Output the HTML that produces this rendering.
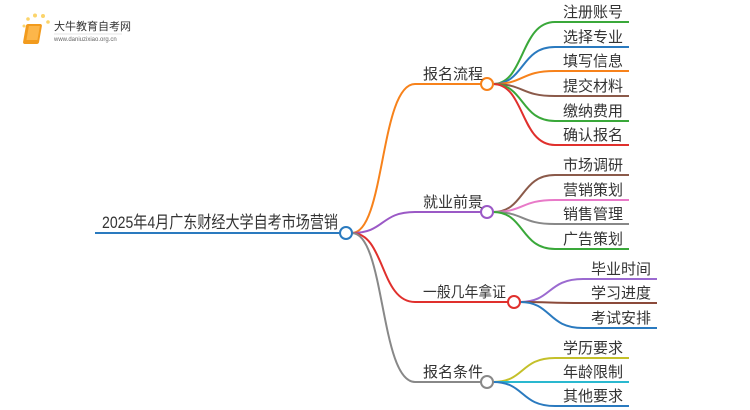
<!DOCTYPE html>
<html><head><meta charset="utf-8"><style>
body{margin:0;background:#fff;width:750px;height:410px;overflow:hidden;position:relative;font-family:"Liberation Sans","Noto Sans CJK SC",sans-serif}
svg{position:absolute;left:0;top:0}
text{font-family:"Liberation Sans","Noto Sans CJK SC",sans-serif;fill:#333}
</style></head><body>
<svg width="750" height="410" viewBox="0 0 750 410">
<g transform="translate(20,14)">
<circle cx="4" cy="12" r="1.5" fill="#fbd46b"/><circle cx="8" cy="5" r="1.8" fill="#fbd46b"/><circle cx="15" cy="1.5" r="2" fill="#fbd46b"/><circle cx="23" cy="2" r="2" fill="#fbd46b"/><circle cx="28" cy="8" r="1.8" fill="#fbd46b"/>
<rect x="8" y="10" width="16" height="20" rx="2" fill="#f29b1d" transform="skewX(-10)"/>
<rect x="11" y="12" width="11" height="14" fill="#fcb64a" transform="skewX(-10)"/>
</g>
<text x="54" y="30" font-size="11" style="fill:#333">大牛教育自考网</text>
<line x1="54" y1="34" x2="122" y2="34" stroke="#ccc" stroke-width="0.6"/>
<text x="54" y="41" font-size="6" style="fill:#666">www.daniuzixiao.org.cn</text>

<g fill="none" stroke-width="2">
<line x1="95" y1="233" x2="340" y2="233" stroke="#2a7abf"/>
<path d="M352 233 C385 233,380 84,415 84 L481 84" stroke="#f7821b"/>
<path d="M352 233 C385 233,380 212,415 212 L481 212" stroke="#9b59c6"/>
<path d="M352 233 C385 233,380 302,415 302 L508 302" stroke="#e0302d"/>
<path d="M352 233 C385 233,380 382,415 382 L481 382" stroke="#888"/>

<path d="M493 84 C525 84,520 22,555 22 L629 22" stroke="#3aa83a"/>
<path d="M493 84 C525 84,520 47,555 47 L629 47" stroke="#2a7abf"/>
<path d="M493 84 C525 84,520 71,555 71 L629 71" stroke="#f7821b"/>
<path d="M493 84 C525 84,520 96,555 96 L629 96" stroke="#8b5a4a"/>
<path d="M493 84 C525 84,520 121,555 121 L629 121" stroke="#3aa83a"/>
<path d="M493 84 C525 84,520 145,555 145 L629 145" stroke="#e0302d"/>

<path d="M493 212 C525 212,520 175,555 175 L629 175" stroke="#8b5a4a"/>
<path d="M493 212 C525 212,520 200,555 200 L629 200" stroke="#e87ac8"/>
<path d="M493 212 C525 212,520 224,555 224 L629 224" stroke="#888"/>
<path d="M493 212 C525 212,520 249,555 249 L629 249" stroke="#3aa83a"/>

<path d="M520 302 C552 302,547 279,583 279 L657 279" stroke="#9b6ad0"/>
<path d="M520 302 C552 302,547 303,583 303 L657 303" stroke="#8b4a3a"/>
<path d="M520 302 C552 302,547 328,583 328 L657 328" stroke="#2a7abf"/>

<path d="M493 382 C525 382,520 358,555 358 L629 358" stroke="#c4c02a"/>
<path d="M493 382 C525 382,520 382,555 382 L629 382" stroke="#2ab8cf"/>
<path d="M493 382 C525 382,520 406,555 406 L629 406" stroke="#2a7abf"/>
</g>
<g fill="#fff" stroke-width="2">
<circle cx="346" cy="233" r="6" stroke="#2a7abf"/>
<circle cx="487" cy="84" r="6" stroke="#f7821b"/>
<circle cx="487" cy="212" r="6" stroke="#9b59c6"/>
<circle cx="514" cy="302" r="6" stroke="#e0302d"/>
<circle cx="487" cy="382" r="6" stroke="#888"/>
</g>
<text x="102" y="228" font-size="17" textLength="236" lengthAdjust="spacingAndGlyphs">2025年4月广东财经大学自考市场营销</text>
<g font-size="15">
<text x="423" y="79">报名流程</text>
<text x="423" y="207">就业前景</text>
<text x="423" y="297" textLength="83" lengthAdjust="spacingAndGlyphs">一般几年拿证</text>
<text x="423" y="377">报名条件</text>
<text x="563" y="17">注册账号</text>
<text x="563" y="42">选择专业</text>
<text x="563" y="66">填写信息</text>
<text x="563" y="91">提交材料</text>
<text x="563" y="116">缴纳费用</text>
<text x="563" y="140">确认报名</text>
<text x="563" y="170">市场调研</text>
<text x="563" y="195">营销策划</text>
<text x="563" y="219">销售管理</text>
<text x="563" y="244">广告策划</text>
<text x="591" y="274">毕业时间</text>
<text x="591" y="298">学习进度</text>
<text x="591" y="323">考试安排</text>
<text x="563" y="353">学历要求</text>
<text x="563" y="377">年龄限制</text>
<text x="563" y="401">其他要求</text>
</g>
</svg>
</body></html>
